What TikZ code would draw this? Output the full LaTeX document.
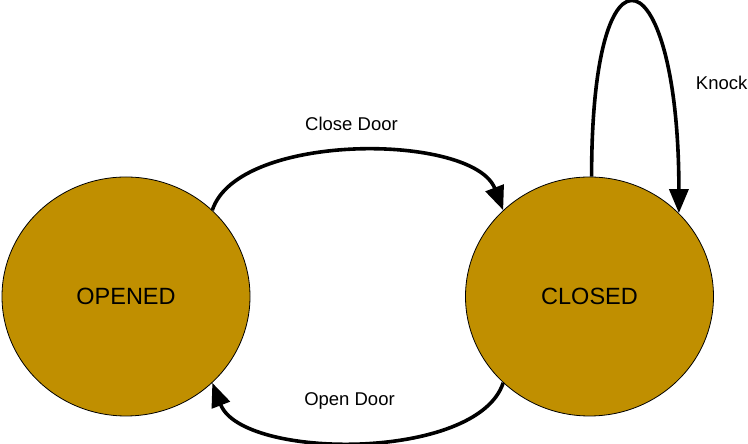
\documentclass[tikz,border=0pt]{standalone}
\usepackage{fontspec}
\setmainfont{Liberation Sans}
\usetikzlibrary{arrows.meta,shapes.geometric}
\definecolor{stategold}{RGB}{192,143,0}

\begin{document}
\begin{tikzpicture}[x=1pt,y=1pt,
        stnode/.style={ellipse,draw=black,line width=0.8pt,fill=stategold,
                minimum width=248pt,minimum height=239pt,inner sep=0pt,
                font=\fontsize{23.5}{28}\selectfont},
        trans/.style={line width=3.6pt,-{Triangle[length=24pt,width=19pt]}},
        lbl/.style={anchor=base,font=\fontsize{18.5}{22}\selectfont}]
        \useasboundingbox (0,0) rectangle (748,444);
        \node (v0) [stnode] at (126,147.5) {OPENED};
        \node (v1) [stnode] at (589.5,147.5) {CLOSED};
        \node (l0) [lbl] at (351.5,313) {Close Door};
        \node (l1) [lbl] at (349.5,38.5) {Open Door};
        \node (l2) [lbl] at (721.7,354.7) {Knock};
        \draw (v0.45) edge [trans, out=72, in=111, looseness=0.73] (v1.135);
        \draw (v1.225) edge [trans, out=252, in=291, looseness=0.73] (v0.315);
        \draw (v1.89) edge [trans, out=90, in=90, looseness=6.9] (v1.43);
\end{tikzpicture}
\end{document}
